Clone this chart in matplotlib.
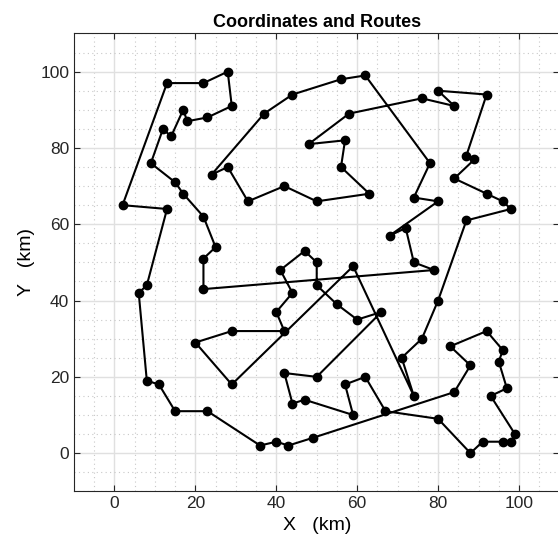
import numpy as np
from matplotlib import pyplot as plt
from matplotlib.ticker import MultipleLocator

plt.rcParams['font.family'] = ['Liberation Sans', 'DejaVu Sans']

# route order (closed tour)
x = [2, 13, 8, 6, 8, 11, 15, 23, 36, 40, 43, 49, 84, 88, 83, 92, 96, 95, 97, 93,
     99, 98, 96, 91, 88, 80, 67, 62, 57, 59, 47, 44, 42, 50, 66, 60, 55, 50, 50, 47,
     41, 44, 40, 42, 29, 20, 29, 59, 74, 71, 76, 80, 87, 98, 96, 92, 84, 89, 87, 92,
     80, 84, 76, 58, 48, 57, 56, 63, 50, 42, 33, 28, 24, 37, 44, 56, 62, 78, 74, 80,
     68, 72, 74, 79, 22, 22, 25, 22, 17, 15, 9, 12, 14, 17, 18, 23, 29, 28, 22, 13]
y = [65, 64, 44, 42, 19, 18, 11, 11, 2, 3, 2, 4, 16, 23, 28, 32, 27, 24, 17, 15,
     5, 3, 3, 3, 0, 9, 11, 20, 18, 10, 14, 13, 21, 20, 37, 35, 39, 44, 50, 53,
     48, 42, 37, 32, 32, 29, 18, 49, 15, 25, 30, 40, 61, 64, 66, 68, 72, 77, 78, 94,
     95, 91, 93, 89, 81, 82, 75, 68, 66, 70, 66, 75, 73, 89, 94, 98, 99, 76, 67, 66,
     57, 59, 50, 48, 43, 51, 54, 62, 68, 71, 76, 85, 83, 90, 87, 88, 91, 100, 97, 97]

xr = np.append(x, x[0])
yr = np.append(y, y[0])

fig = plt.figure(figsize=(5.58, 5.49), dpi=100)
ax = fig.add_axes([0.1326, 0.1051, 0.870, 0.8339])

ax.plot(xr, yr, '-', color='black', linewidth=1.5)
ax.plot(x, y, 'o', color='black', markersize=6)

ax.set_xlim(-10, 110)
ax.set_ylim(-10, 110)
ax.xaxis.set_major_locator(MultipleLocator(20))
ax.yaxis.set_major_locator(MultipleLocator(20))
ax.xaxis.set_minor_locator(MultipleLocator(5))
ax.yaxis.set_minor_locator(MultipleLocator(5))
ax.grid(which='major', color='#e0e0e0', linestyle='-', linewidth=1.0)
ax.grid(which='minor', color='#c8c8c8', linestyle=(0, (1, 3)), linewidth=0.8)
ax.set_axisbelow(True)

ax.tick_params(which='major', direction='in', length=4, width=0.8,
               top=True, right=True, labelsize=12.5, colors='#262626')
ax.tick_params(which='minor', length=0)
for s in ax.spines.values():
    s.set_color('#262626')
    s.set_linewidth(0.8)

ax.set_title('Coordinates and Routes', fontsize=13, fontweight='bold', pad=5)
ax.set_xlabel('X   (km)', fontsize=14)
ax.set_ylabel('Y   (km)', fontsize=14)

plt.savefig('out.png', dpi=100)
